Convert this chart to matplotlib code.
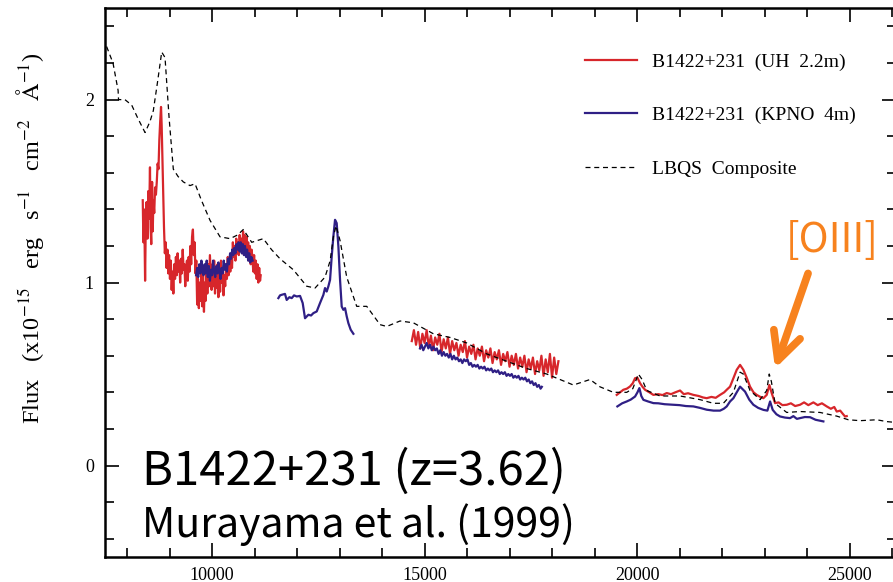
import matplotlib
matplotlib.use("Agg")
import matplotlib.pyplot as plt
from matplotlib.ticker import MultipleLocator

# LBQS composite (dashed)
lbqs_lam = [7520, 7670, 7790, 7800, 7950, 8110, 8250, 8424, 8540, 8619, 8720, 8816, 8894,
            8990, 9089, 9200, 9325, 9482, 9600, 9750, 9953, 10188, 10424, 10600, 10736,
            10934, 11207, 11400, 11600, 11913, 12228, 12424, 12659, 12780, 12855, 12918,
            13012, 13169, 13404, 13640, 13953, 14110, 14424, 14737, 15208, 15600, 15992,
            16463, 16933, 17404, 17875, 18188, 18502, 18894, 19129, 19443, 19757, 19900,
            20031, 20120, 20228, 20541, 21012, 21482, 21796, 22031, 22267, 22424, 22500,
            22659, 22894, 23051, 23110, 23160, 23247, 23522, 23835, 24306, 24698, 24973,
            25247, 25639, 25875, 26100]
lbqs_flux = [2.29, 2.20, 2.05, 2.00, 2.00, 1.97, 1.90, 1.82, 1.88, 1.94, 2.10, 2.26, 2.23,
             1.90, 1.62, 1.58, 1.55, 1.53, 1.54, 1.45, 1.34, 1.25, 1.24, 1.26, 1.29,
             1.22, 1.24, 1.18, 1.13, 1.07, 0.98, 0.97, 1.03, 1.12, 1.25, 1.31,
             1.23, 1.03, 0.87, 0.87, 0.77, 0.76, 0.79, 0.78, 0.72, 0.70, 0.67,
             0.61, 0.57, 0.53, 0.50, 0.47, 0.44, 0.47, 0.43, 0.40, 0.40, 0.42,
             0.50, 0.47, 0.41, 0.38, 0.38, 0.36, 0.34, 0.34, 0.40, 0.51, 0.50,
             0.41, 0.36, 0.41, 0.50, 0.46, 0.34, 0.29, 0.295, 0.29, 0.27, 0.25,
             0.245, 0.25, 0.24, 0.235]

# UH 2.2m, J band
uh_j_lam = [8370, 8385, 8400, 8415, 8425, 8440, 8460, 8480, 8500, 8520, 8540, 8555, 8570,
            8590, 8605, 8620, 8640, 8660, 8680, 8700, 8720, 8740, 8760, 8780, 8800, 8815,
            8830, 8850, 8870, 8890, 8910, 8930, 8950, 8970, 8990, 9010, 9030, 9050, 9070,
            9090, 9110, 9130, 9150, 9170, 9190, 9210, 9230, 9250, 9270, 9290, 9310, 9330,
            9350, 9370, 9390, 9410, 9430, 9450, 9470, 9490, 9510, 9530, 9550, 9570, 9590,
            9610, 9630, 9650, 9670, 9690, 9710, 9730, 9750, 9770, 9790, 9810, 9830, 9850,
            9870, 9890, 9910, 9930, 9950, 9970, 9990, 10010, 10030, 10050, 10070, 10090,
            10110, 10130, 10150, 10170, 10190, 10210, 10230, 10250, 10270, 10290, 10310,
            10330, 10350, 10370, 10390, 10410, 10430, 10450, 10470, 10490, 10510, 10530,
            10550, 10570, 10590, 10610, 10630, 10650, 10670, 10690, 10710, 10730, 10750,
            10770, 10790, 10810, 10830, 10850, 10870, 10890, 10910, 10930, 10950, 10970,
            10990, 11010, 11030, 11050, 11070, 11090, 11110, 11130, 11145]
uh_j_flux = [1.45, 1.22, 1.40, 1.20, 1.01, 1.30, 1.44, 1.24, 1.50, 1.35, 1.63, 1.30, 1.21,
             1.55, 1.28, 1.45, 1.38, 1.52, 1.48, 1.55, 1.65, 1.62, 1.78, 1.88, 1.96, 1.86,
             1.70, 1.48, 1.30, 1.16, 1.22, 1.08, 1.18, 1.05, 1.15, 1.02, 1.12, 0.96, 1.06,
             0.94, 1.10, 1.02, 1.14, 1.04, 1.16, 1.06, 1.12, 1.00, 1.13, 1.05, 1.18, 1.07,
             1.10, 0.98, 1.08, 1.12, 1.01, 1.14, 1.06, 1.20, 1.10, 1.25, 1.29, 1.15, 1.22,
             1.05, 1.12, 0.88, 1.02, 0.86, 1.00, 0.90, 1.06, 0.87, 1.04, 0.84, 1.00, 0.90,
             1.08, 0.94, 1.10, 0.98, 1.15, 1.05, 0.96, 1.10, 0.98, 1.12, 0.94, 1.05,
             0.97, 1.10, 0.92, 1.08, 0.95, 1.12, 1.00, 1.06, 0.93, 1.04, 0.98,
             1.10, 1.02, 1.14, 1.04, 1.12, 1.06, 1.15, 1.08, 1.22, 1.14, 1.20,
             1.12, 1.24, 1.16, 1.22, 1.15, 1.26, 1.18, 1.24, 1.16, 1.28, 1.20,
             1.26, 1.18, 1.25, 1.14, 1.22, 1.12, 1.20, 1.10, 1.18, 1.14, 1.06,
             1.15, 1.05, 1.12, 1.02, 1.10, 1.00, 1.08, 1.01, 1.04]

# UH 2.2m, H band
uh_h_lam = [14700, 14750, 14800, 14850, 14900, 14950, 15000, 15050, 15100, 15150, 15200,
            15250, 15300, 15350, 15400, 15450, 15500, 15550, 15600, 15650, 15700, 15750,
            15800, 15850, 15900, 15950, 16000, 16050, 16100, 16150, 16200, 16250, 16300,
            16350, 16400, 16450, 16500, 16550, 16600, 16650, 16700, 16750, 16800, 16850,
            16900, 16950, 17000, 17050, 17100, 17150, 17200, 17250, 17300, 17350, 17400,
            17450, 17500, 17550, 17600, 17650, 17700, 17750, 17800, 17850, 17900, 17950,
            18000, 18050, 18100, 18150]
uh_h_flux = [0.68, 0.74, 0.66, 0.73, 0.64, 0.72, 0.67, 0.74, 0.65, 0.71, 0.63,
             0.70, 0.66, 0.72, 0.62, 0.69, 0.64, 0.70, 0.61, 0.68, 0.63, 0.67,
             0.60, 0.66, 0.62, 0.68, 0.59, 0.65, 0.61, 0.66, 0.58, 0.64, 0.60,
             0.65, 0.57, 0.63, 0.59, 0.64, 0.56, 0.62, 0.58, 0.63, 0.55, 0.61,
             0.57, 0.62, 0.54, 0.60, 0.55, 0.61, 0.53, 0.59, 0.54, 0.60, 0.51,
             0.58, 0.53, 0.59, 0.50, 0.57, 0.52, 0.60, 0.49, 0.58, 0.51, 0.61,
             0.48, 0.59, 0.50, 0.57]

# UH 2.2m, K band
uh_k_lam = [19522, 19600, 19678, 19760, 19835, 19900, 19953, 20008, 20071, 20130, 20188,
            20290, 20384, 20500, 20600, 20698, 20800, 20900, 21012, 21100, 21200, 21325,
            21450, 21550, 21639, 21750, 21850, 21953, 22050, 22110, 22188, 22267, 22345,
            22424, 22502, 22580, 22659, 22740, 22816, 22900, 22973, 23051, 23114, 23169,
            23247, 23330, 23420, 23522, 23620, 23720, 23835, 23930, 24030, 24149, 24250,
            24350, 24463, 24560, 24640, 24698, 24780, 24850, 24894, 24933]
uh_k_flux = [0.386, 0.40, 0.414, 0.42, 0.432, 0.45, 0.477, 0.48, 0.45, 0.43, 0.414,
             0.40, 0.386, 0.39, 0.385, 0.396, 0.39, 0.40, 0.41, 0.39, 0.395, 0.386,
             0.38, 0.372, 0.368, 0.375, 0.37, 0.386, 0.40, 0.414, 0.431, 0.477, 0.523,
             0.55, 0.523, 0.48, 0.431, 0.40, 0.386, 0.375, 0.368, 0.386, 0.44, 0.395,
             0.341, 0.345, 0.33, 0.332, 0.34, 0.325, 0.332, 0.345, 0.33, 0.345, 0.33,
             0.34, 0.323, 0.31, 0.32, 0.295, 0.30, 0.28, 0.268, 0.27]

# KPNO 4m, J band
kp_j_lam = [9625, 9650, 9675, 9700, 9725, 9750, 9775, 9800, 9825, 9850, 9875, 9900, 9925,
            9950, 9975, 10000, 10025, 10050, 10075, 10100, 10125, 10150, 10175, 10200,
            10225, 10250, 10275, 10300, 10325, 10350, 10375, 10400, 10425, 10450, 10475,
            10500, 10525, 10550, 10575, 10600, 10625, 10650, 10675, 10700, 10725, 10750,
            10775, 10800, 10825, 10850, 10875, 10900, 10925, 10955]
kp_j_flux = [1.04, 1.08, 1.03, 1.10, 1.05, 1.12, 1.06, 1.04, 1.10, 1.05, 1.12, 1.03, 1.09,
             1.01, 1.07, 1.04, 1.12, 1.06, 1.03, 1.09, 1.05, 1.11, 1.06, 1.02,
             1.08, 1.05, 1.12, 1.07, 1.10, 1.06, 1.13, 1.10, 1.16, 1.13, 1.18,
             1.15, 1.19, 1.16, 1.21, 1.18, 1.22, 1.17, 1.22, 1.16, 1.21, 1.15,
             1.20, 1.14, 1.18, 1.12, 1.16, 1.11, 1.14, 1.12]

# KPNO 4m, MgII region
kp_m_lam = [11561, 11600, 11638, 11716, 11757, 11820, 11875, 11930, 11992, 12071, 12133,
            12188, 12267, 12330, 12385, 12463, 12541, 12620, 12659, 12698, 12737, 12777,
            12816, 12855, 12894, 12933, 12973, 13012, 13051, 13090, 13130, 13169, 13208,
            13263, 13326]
kp_m_flux = [0.915, 0.93, 0.933, 0.938, 0.905, 0.92, 0.915, 0.93, 0.924, 0.927, 0.888,
             0.805, 0.824, 0.82, 0.833, 0.842, 0.888, 0.933, 0.970, 0.951, 0.979, 1.015,
             1.143, 1.252, 1.343, 1.325, 1.197, 1.015, 0.869, 0.851, 0.860, 0.815, 0.778,
             0.742, 0.720]

# KPNO 4m, H band
kp_h_lam = [14894, 14930, 14970, 15010, 15050, 15090, 15130, 15170, 15210, 15250, 15290,
            15330, 15370, 15410, 15450, 15490, 15530, 15570, 15610, 15650, 15690, 15730,
            15770, 15810, 15850, 15890, 15930, 15970, 16010, 16050, 16090, 16130, 16170,
            16210, 16250, 16290, 16330, 16370, 16410, 16450, 16490, 16530, 16570, 16610,
            16650, 16690, 16730, 16770, 16810, 16850, 16890, 16930, 16970, 17010, 17050,
            17090, 17130, 17170, 17210, 17250, 17290, 17330, 17370, 17410, 17450, 17490,
            17530, 17570, 17610, 17650, 17690, 17730, 17760]
kp_h_flux = [0.64, 0.66, 0.63, 0.65, 0.67, 0.64, 0.66, 0.63, 0.65, 0.63, 0.64,
             0.61, 0.63, 0.60, 0.62, 0.60, 0.61, 0.59, 0.61, 0.58, 0.60, 0.58,
             0.59, 0.57, 0.58, 0.56, 0.58, 0.57, 0.58, 0.55, 0.56, 0.54, 0.55,
             0.54, 0.55, 0.53, 0.54, 0.53, 0.54, 0.52, 0.53, 0.52, 0.53, 0.51,
             0.52, 0.51, 0.52, 0.50, 0.51, 0.50, 0.51, 0.49, 0.50, 0.49, 0.50,
             0.48, 0.49, 0.48, 0.49, 0.47, 0.48, 0.47, 0.48, 0.46, 0.47, 0.45,
             0.46, 0.44, 0.45, 0.43, 0.44, 0.42, 0.43]

# KPNO 4m, K band
kp_k_lam = [19537, 19650, 19757, 19850, 19953, 20010, 20055, 20100, 20149, 20260, 20384,
            20500, 20650, 20855, 21000, 21150, 21325, 21480, 21639, 21800, 21953, 22040,
            22110, 22188, 22267, 22345, 22424, 22541, 22640, 22737, 22850, 22973, 23067,
            23130, 23192, 23280, 23365, 23480, 23600, 23678, 23760, 23835, 23950, 24071,
            24200, 24384]
kp_k_flux = [0.323, 0.34, 0.35, 0.36, 0.377, 0.40, 0.423, 0.38, 0.359, 0.35, 0.341,
             0.34, 0.335, 0.332, 0.33, 0.325, 0.323, 0.315, 0.305, 0.30, 0.30, 0.31,
             0.323, 0.35, 0.368, 0.40, 0.431, 0.404, 0.36, 0.332, 0.315, 0.304, 0.30,
             0.35, 0.304, 0.28, 0.268, 0.262, 0.259, 0.27, 0.255, 0.259, 0.265, 0.264,
             0.25, 0.241]

red = "#d7262b"
blue = "#2f1f85"
orange = "#f7821e"

plt.rcParams["font.family"] = ["Liberation Serif", "DejaVu Serif"]
plt.rcParams["mathtext.fontset"] = "stix"

fig = plt.figure(figsize=(8.93, 5.82), dpi=100)
ax = fig.add_axes([0.1175, 0.043, 0.8862, 0.943])

ax.plot(lbqs_lam, lbqs_flux, color="black", ls=(0, (4, 3)), lw=0.9,
        label="LBQS  Composite", zorder=3)
for i, (lam, flx) in enumerate([(uh_j_lam, uh_j_flux), (uh_h_lam, uh_h_flux),
                                (uh_k_lam, uh_k_flux)]):
    ax.plot(lam, flx, color=red, lw=1.6, zorder=2,
            label="B1422+231  (UH  2.2m)" if i == 0 else None)
for i, (lam, flx) in enumerate([(kp_j_lam, kp_j_flux), (kp_m_lam, kp_m_flux),
                                (kp_h_lam, kp_h_flux), (kp_k_lam, kp_k_flux)]):
    ax.plot(lam, flx, color=blue, lw=1.6, zorder=2.5,
            label="B1422+231  (KPNO  4m)" if i == 0 else None)

ax.set_xlim(7480, 26100)
ax.set_ylim(-0.5, 2.5)
ax.xaxis.set_major_locator(MultipleLocator(5000))
ax.xaxis.set_minor_locator(MultipleLocator(1000))
ax.yaxis.set_major_locator(MultipleLocator(1))
ax.yaxis.set_minor_locator(MultipleLocator(0.2))
ax.tick_params(which="both", direction="in", top=True, right=True, width=1.2,
               labelsize=13)
ax.tick_params(which="major", length=10)
ax.tick_params(which="minor", length=6.5)
ax.tick_params(axis="x", pad=7)
ax.tick_params(axis="y", pad=8)
for s in ax.spines.values():
    s.set_linewidth(1.8)

fig.text(30 / 893, 1 - 238 / 582,
         r"Flux   (x10$^{-15}$   erg   s$^{-1}$   cm$^{-2}$   $\mathrm{\AA}^{-1}$)",
         fontsize=17.5, rotation=90, ha="center", va="center")

h, l = ax.get_legend_handles_labels()
order = [1, 2, 0]
ax.legend([h[i] for i in order], [l[i] for i in order], loc="upper left",
          bbox_to_anchor=(585 / 893, 1 - 53 / 582), bbox_transform=fig.transFigure,
          frameon=False, fontsize=14, handlelength=2.68, handletextpad=0.77,
          labelspacing=1.84, borderpad=0, borderaxespad=0)

big_font = ["Noto Sans CJK JP", "DejaVu Sans"]
fig.text(142 / 893, 1 - 485 / 582, "B1422+231 (z=3.62)", family=big_font,
         fontsize=34, va="baseline", ha="left")
fig.text(142 / 893, 1 - 537 / 582, "Murayama et al. (1999)", family=big_font,
         fontsize=29.5, va="baseline", ha="left")

ax.text(24600, 1.23, "[OIII]", family=big_font, fontsize=29, color=orange,
        ha="center", va="center")
ax.annotate("", xy=(23247, 0.53), xytext=(24024, 1.05),
            arrowprops=dict(arrowstyle="->", color=orange, lw=5.5,
                            mutation_scale=50, shrinkA=0, shrinkB=0))

fig.savefig("out.png", dpi=100)
